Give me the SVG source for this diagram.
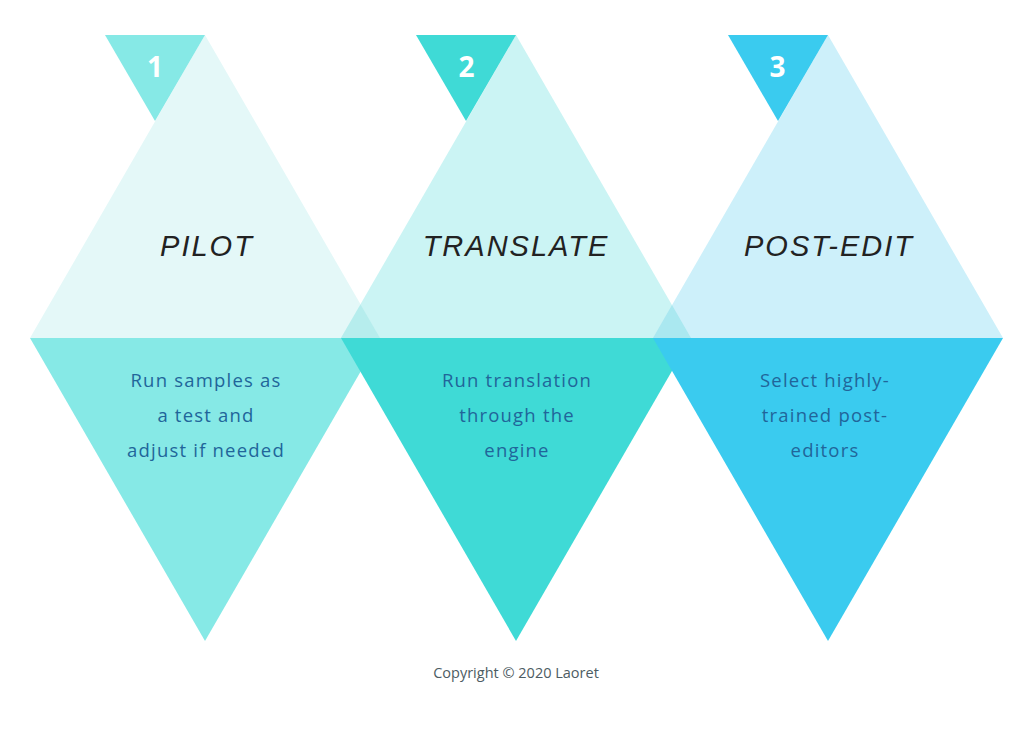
<svg xmlns="http://www.w3.org/2000/svg" width="1024" height="730" viewBox="0 0 1024 730">
  <style>
    .title { font-family: "Liberation Sans", Arial, sans-serif; font-style: italic; font-size: 29px; letter-spacing: 2px; fill: #222222; text-anchor: middle; }
    .num { font-family: "Open Sans", "Liberation Sans", sans-serif; font-weight: bold; font-size: 28px; fill: #ffffff; text-anchor: middle; }
    .body { font-family: "Open Sans", "Liberation Sans", sans-serif; font-size: 18.5px; letter-spacing: 1.2px; fill: #21659a; text-anchor: middle; }
    .copy { font-family: "Open Sans", "Liberation Sans", sans-serif; font-size: 14.5px; fill: #4d5c63; text-anchor: middle; }
  </style>
  <rect width="1024" height="730" fill="#ffffff"/>

  <g id="step1-pilot">
    <polygon points="205,35 380,338 30,338" fill="#e4f8f8"/>
    <polygon points="30,338 380,338 205,641" fill="#86e9e6"/>
    <polygon points="105,35 205,35 155,121" fill="#86e9e6"/>
    <text class="num" x="155" y="77">1</text>
    <text class="title" x="207" y="256">PILOT</text>
    <text class="body" x="206" y="387">Run samples as</text>
    <text class="body" x="206" y="422">a test and</text>
    <text class="body" x="206" y="457">adjust if needed</text>
  </g>

  <g id="step2-translate">
    <polygon points="516,35 691,338 341,338" fill="#cbf4f4"/>
    <polygon points="341,338 691,338 516,641" fill="#3fdad6"/>
    <polygon points="416,35 516,35 466,121" fill="#3fdad6"/>
    <text class="num" x="466.5" y="77">2</text>
    <text class="title" x="516" y="256">TRANSLATE</text>
    <text class="body" x="517" y="387">Run translation</text>
    <text class="body" x="517" y="422">through the</text>
    <text class="body" x="517" y="457">engine</text>
  </g>

  <g id="step3-post-edit">
    <polygon points="828,35 1003,338 653,338" fill="#cdf0fa"/>
    <polygon points="653,338 1003,338 828,641" fill="#3acbef"/>
    <polygon points="728,35 828,35 778,121" fill="#3acbef"/>
    <text class="num" x="777.5" y="77">3</text>
    <text class="title" x="829" y="256">POST-EDIT</text>
    <text class="body" x="825" y="387">Select highly-</text>
    <text class="body" x="825" y="422">trained post-</text>
    <text class="body" x="825" y="457">editors</text>
  </g>

  <g id="overlaps">
    <polygon points="341,338 380,338 360.5,304.5" fill="#b6eded"/>
    <polygon points="653,338 691,338 672,305" fill="#aae8f0"/>
  </g>

  <g id="connectors"></g>

  <text class="copy" x="516" y="678">Copyright © 2020 Laoret</text>
</svg>
